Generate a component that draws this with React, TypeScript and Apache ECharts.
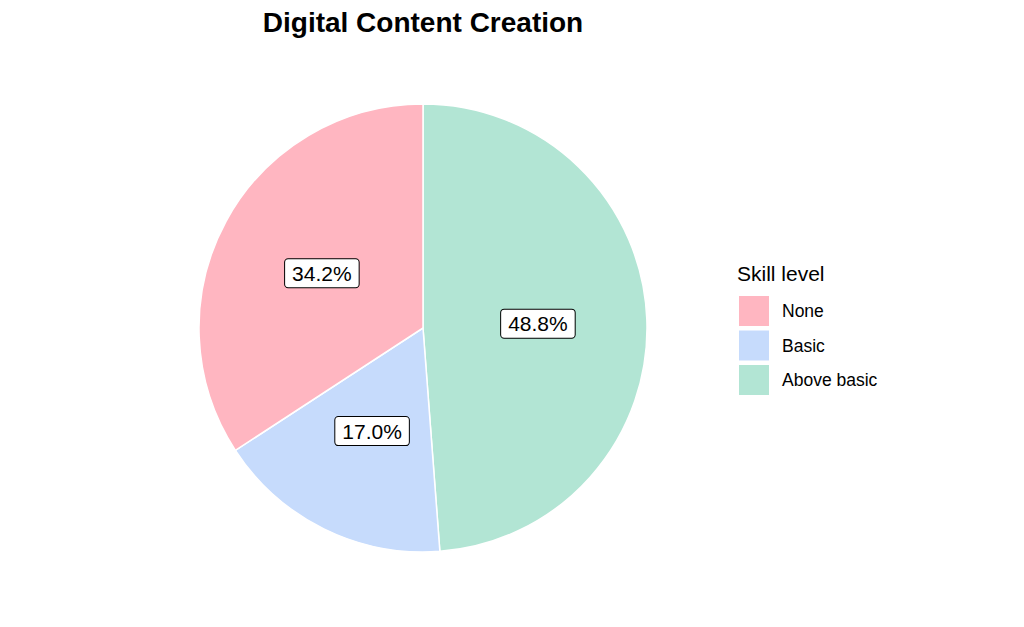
import React, { useEffect, useRef } from "react";
import * as echarts from "echarts";

const titleText = "Digital Content Creation";
const legendTitle = "Skill level";
const categories = ["None", "Basic", "Above basic"];
const values = [34.2, 17.0, 48.8];
const colors = ["#FFB6C1", "#C6DBFC", "#B2E5D4"];
// drawing order (clockwise from 12 o'clock)
const drawOrder = ["Above basic", "Basic", "None"];

const FONT = "'Liberation Sans', Arial, sans-serif";

export default function App() {
  const ref = useRef<HTMLDivElement>(null);
  useEffect(() => {
    if (!ref.current) return;
    const chart = echarts.init(ref.current, undefined, { renderer: "svg" });
    const data = drawOrder.map((name) => {
      const i = categories.indexOf(name);
      return { name, value: values[i], itemStyle: { color: colors[i] } };
    });
    chart.setOption({
      animation: false,
      backgroundColor: "#ffffff",
      textStyle: { fontFamily: FONT },
      graphic: [
        {
          type: "text",
          x: 423,
          y: 22,
          style: {
            text: titleText,
            font: `bold 28px ${FONT}`,
            fill: "#000",
            textAlign: "center",
            textVerticalAlign: "middle",
          },
        },
        {
          type: "text",
          x: 737,
          y: 273,
          style: {
            text: legendTitle,
            font: `21px ${FONT}`,
            fill: "#000",
            textAlign: "left",
            textVerticalAlign: "middle",
          },
        },
      ],
      legend: {
        orient: "vertical",
        left: 739,
        top: 296,
        padding: 0,
        data: categories,
        icon: "rect",
        itemWidth: 30,
        itemHeight: 30,
        itemGap: 4.5,
        itemStyle: { borderWidth: 0 },
        textStyle: {
          fontFamily: FONT,
          fontSize: 17.5,
          color: "#000",
          padding: [0, 0, 0, 8],
        },
      },
      series: [
        {
          type: "pie",
          center: [423, 328],
          radius: [0, 224],
          startAngle: 90,
          clockwise: true,
          data,
          itemStyle: { borderColor: "#ffffff", borderWidth: 1.5 },
          emphasis: { disabled: true },
          labelLine: { show: false },
          label: {
            show: true,
            position: "inside",
            formatter: (p: any) => `${Number(p.value).toFixed(1)}%`,
            fontFamily: FONT,
            fontSize: 21,
            lineHeight: 22,
            color: "#000",
            backgroundColor: "#ffffff",
            borderColor: "#000000",
            borderWidth: 1,
            borderRadius: 3,
            padding: [3, 7, 3, 7],
          },
        },
      ],
    });
    return () => chart.dispose();
  }, []);
  return (
    <div
      ref={ref}
      style={{ position: "fixed", left: 0, top: 0, width: 1024, height: 627 }}
    />
  );
}
